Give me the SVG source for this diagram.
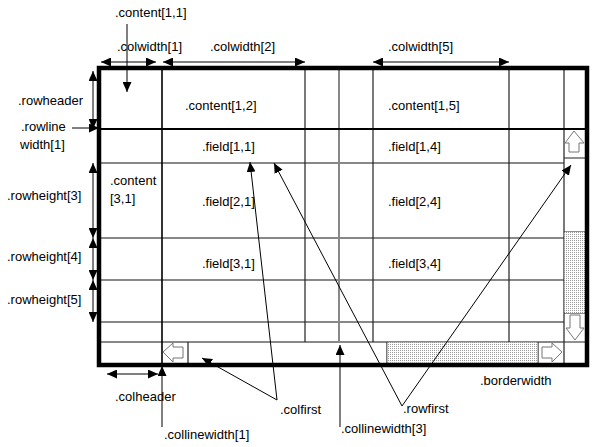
<svg xmlns="http://www.w3.org/2000/svg" width="592" height="447" viewBox="0 0 592 447">
<style>
text{font-family:"Liberation Sans",Arial,sans-serif;font-size:13px;fill:#000}
.dk{stroke:#222;stroke-width:1.2;fill:none}
.gr{stroke:#888;stroke-width:2;fill:none}
.sa{stroke:#777;stroke-width:1;fill:#fff}
.ann{stroke:#000;stroke-width:1;fill:none}
.a2{marker-end:url(#ah)}
.a3{marker-start:url(#ah);marker-end:url(#ah)}
</style>
<defs>
<marker id="ah" markerUnits="userSpaceOnUse" markerWidth="11" markerHeight="9" refX="10" refY="4.5" orient="auto-start-reverse">
<path d="M0,0 L10,4.5 L0,9 z" fill="#000"/>
</marker>
<pattern id="dots" width="2" height="2" patternUnits="userSpaceOnUse">
<rect width="2" height="2" fill="#fff"/>
<rect width="1" height="1" fill="#9a9a9a"/>
</pattern>
</defs>
<rect width="592" height="447" fill="#fff"/>
<g id="table">
<rect x="99" y="68" width="488" height="297" fill="#fff"/>
<path class="gr" d="M101,163H564M101,238H564M101,280H564M101,322H564M101,342H564M339,70V342"/>
<path class="dk" d="M305,70V342M373,70V342M509,70V342M564,70V363M188,342V363M387,342V363M538,342V363M564,158H585M564,232H585M564,313H585M564,342H585"/>
<path d="M162,70V363" stroke="#000" stroke-width="1.6"/>
<path d="M101,129H585" stroke="#000" stroke-width="2.2"/>
</g>
<g id="scrollbars">
<rect x="564.5" y="232" width="20.5" height="81" fill="url(#dots)"/>
<rect x="387.5" y="342.5" width="150" height="20" fill="url(#dots)"/>
<path class="sa" d="M574,131L584,143H579V152H569V143H565Z"/>
<path class="sa" d="M570,315H580V328H584L575,340L566,328H570Z"/>
<path class="sa" d="M163,352L173,343V347H183V358H173V362Z"/>
<path class="sa" d="M562,352L552,343V347H542V358H552V362Z"/>
</g>
<rect id="border" x="99" y="68" width="488" height="297" fill="none" stroke="#000" stroke-width="4.5"/>
<g id="cells">
<text x="185" y="110">.content[1,2]</text>
<text x="388" y="110">.content[1,5]</text>
<text x="110" y="185">.content</text>
<text x="110" y="203">[3,1]</text>
<text x="202" y="151">.field[1,1]</text>
<text x="388" y="151">.field[1,4]</text>
<text x="202" y="206">.field[2,1]</text>
<text x="388" y="206">.field[2,4]</text>
<text x="202" y="268">.field[3,1]</text>
<text x="388" y="268">.field[3,4]</text>
</g>
<g id="labels">
<text x="115" y="17">.content[1,1]</text>
<text x="117" y="51">.colwidth[1]</text>
<text x="210" y="51">.colwidth[2]</text>
<text x="388" y="51">.colwidth[5]</text>
<text x="18" y="105">.rowheader</text>
<text x="21" y="131">.rowline</text>
<text x="20" y="149">width[1]</text>
<text x="7" y="200">.rowheight[3]</text>
<text x="7" y="261">.rowheight[4]</text>
<text x="7" y="304">.rowheight[5]</text>
<text x="115" y="401">.colheader</text>
<text x="164" y="439">.collinewidth[1]</text>
<text x="280" y="414">.colfirst</text>
<text x="341" y="433">.collinewidth[3]</text>
<text x="403" y="413">.rowfirst</text>
<text x="480" y="385">.borderwidth</text>
</g>
<g id="connectors">
<path class="ann a2" d="M127,24V92"/>
<path class="ann a3" d="M101,62H156"/>
<path class="ann a3" d="M163,62H305"/>
<path class="ann a3" d="M373,62H509"/>
<path class="ann a3" d="M93,71V129"/>
<path class="ann a2" d="M72,128H99"/>
<path class="ann a3" d="M93,163V238"/>
<path class="ann a3" d="M93,238V280"/>
<path class="ann a3" d="M93,280V322"/>
<path class="ann a3" d="M107,374H158"/>
<path class="ann a2" d="M162,427V366"/>
<path class="ann a2" d="M340,427V345"/>
<path class="ann a2" d="M277,400L250,162"/>
<path class="ann a2" d="M277,400L202,358"/>
<path class="ann a2" d="M402,406L274,163"/>
<path class="ann a2" d="M402,406L571,165"/>
</g>
</svg>
